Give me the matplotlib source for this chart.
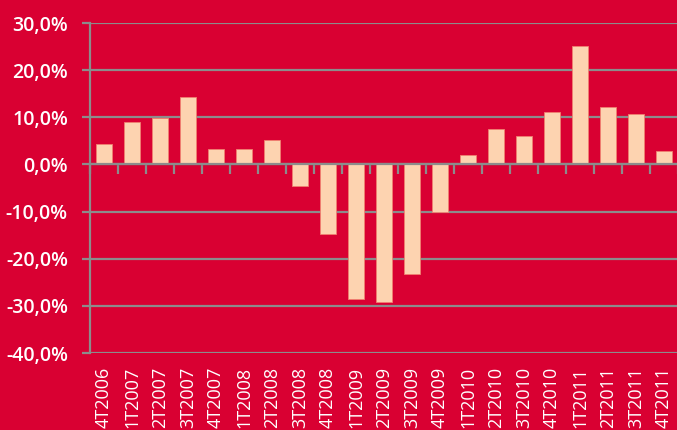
import numpy as np
import matplotlib.pyplot as plt
from matplotlib.ticker import FuncFormatter

# quarterly growth rates (%)
quarters = ["4T2006", "1T2007", "2T2007", "3T2007", "4T2007", "1T2008", "2T2008",
            "3T2008", "4T2008", "1T2009", "2T2009", "3T2009", "4T2009", "1T2010",
            "2T2010", "3T2010", "4T2010", "1T2011", "2T2011", "3T2011", "4T2011"]
growth = [4.3, 8.9, 9.9, 14.3, 3.2, 3.2, 5.1, -4.5, -14.7, -28.5, -29.1, -23.2,
          -10.0, 1.9, 7.6, 6.0, 11.1, 25.1, 12.1, 10.6, 2.8]
y_ticks = [-40, -30, -20, -10, 0, 10, 20, 30]

red = "#D90032"
peach = "#FDD3B0"
grey = "#8C8C8C"

plt.rcParams["font.family"] = ["Open Sans", "DejaVu Sans"]

fig = plt.figure(figsize=(6.77, 4.30), dpi=100, facecolor=red)
ax = fig.add_axes([90 / 677, 1 - 353 / 430, 588 / 677, 330 / 430])
ax.set_facecolor(red)

x = np.arange(len(quarters))
ax.bar(x, growth, width=0.6, color=peach, edgecolor="#F08070", linewidth=0.6, zorder=3)

ax.set_xlim(-0.5, len(quarters) - 0.5)
ax.set_ylim(-40, 30)
ax.set_yticks(y_ticks)
ax.yaxis.set_major_formatter(FuncFormatter(lambda v, p: f"{v:.1f}%".replace(".", ",")))
ax.grid(axis="y", color=grey, linewidth=1.6, zorder=1)
ax.tick_params(axis="y", colors=grey, length=6, width=1.6, labelcolor="white",
               labelsize=14, pad=10)
for lbl in ax.get_yticklabels():
    lbl.set_fontweight("semibold")

ax.set_xticks(x)
ax.set_xticklabels(quarters, rotation=90, color="white", fontsize=13, va="top")
ax.tick_params(axis="x", length=0, pad=10)

for s in ["top", "right", "bottom"]:
    ax.spines[s].set_visible(False)
ax.spines["left"].set_color(grey)
ax.spines["left"].set_linewidth(1.6)

# category axis crossing at zero, with tick marks between categories
zero_frac = (0 - (-40)) / 70
sec = ax.secondary_xaxis(zero_frac)
sec.xaxis.set_ticks_position("bottom")
sec.set_xticks(np.arange(len(quarters) + 1) - 0.5)
sec.set_xticklabels([])
sec.tick_params(axis="x", direction="out", length=7, width=1.6, colors=grey)
sec.spines["bottom"].set_color(grey)
sec.spines["bottom"].set_linewidth(1.6)
ax.axhline(0, color=grey, linewidth=1.6, zorder=4)

fig.savefig("out.png", dpi=100, facecolor=red)
